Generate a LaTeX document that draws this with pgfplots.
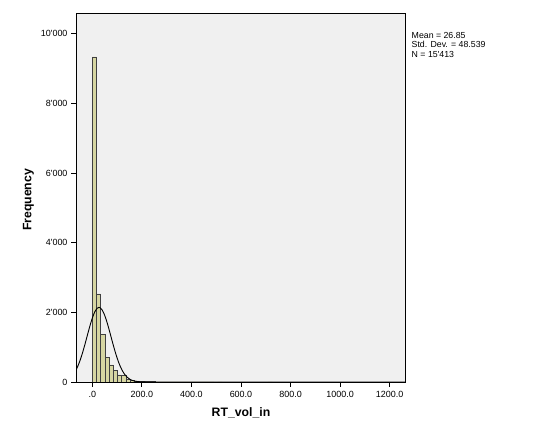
\documentclass[border=0pt]{standalone}
\usepackage{pgfplots}
\pgfplotsset{compat=1.18}
\usepackage{fontspec}
\setmainfont{Liberation Sans}
\definecolor{barfill}{RGB}{214,214,162}
\definecolor{plotbg}{RGB}{240,240,240}
\newcommand{\q}{\textquotesingle}
\begin{document}
\begin{tikzpicture}[x=1bp,y=1bp]
\path[use as bounding box, fill=white] (0,0) rectangle (540,436);
\begin{axis}[
  at={(76bp,54bp)}, anchor=south west,
  width=329.7bp, height=369bp, scale only axis,
  xmin=-66, xmax=1265, ymin=0, ymax=10591,
  scaled x ticks=false, scaled y ticks=false,
  axis background/.style={fill=plotbg},
  axis line style={black, line width=0.8pt},
  xtick={0,200,400,600,800,1000,1200},
  xticklabels={.0,200.0,400.0,600.0,800.0,1000.0,1200.0},
  ytick={0,2000,4000,6000,8000,10000},
  yticklabels={0,2\q000,4\q000,6\q000,8\q000,10\q000},
  xtick pos=bottom, ytick pos=left,
  tick align=outside, major tick length=5bp,
  tick style={black, line width=0.8pt},
  ticklabel style={font=\fontsize{9}{10}\selectfont},
  xticklabel style={yshift=-0.5bp},
  clip=true,
]
\addplot[ybar, bar width=16.9, bar shift=0, fill=barfill, draw=black!75, line width=0.5pt]
coordinates {
(8.45,9330) (25.35,2526) (42.25,1369) (59.15,708) (76.05,488)
(92.95,344) (109.85,201) (126.75,182) (143.65,77) (160.55,57)
(177.45,35) (194.35,25) (211.25,16) (228.15,12) (245.05,8)
(261.95,6) (278.85,5) (295.75,4) (312.65,3) (329.55,3)
(346.45,2) (363.35,2) (380.25,1) (397.15,1) (414.05,1)
(430.95,1) (447.85,1) (464.75,1) (481.65,1)
(515.45,1) (718.25,1) (1191.45,1)
};
\addplot[black, line width=0.9pt, smooth, mark=none]
coordinates {
(-66,343.6) (-60,431.8) (-50,611.2) (-40,829.4) (-30,1078.1)
(-20,1343.8) (-10,1605.0) (0,1837.1) (10,2015.7) (20,2119.7)
(26.85,2140.9) (30,2136.4) (40,2063.8) (50,1910.8) (60,1695.6)
(70,1442.1) (80,1175.6) (90,918.4) (100,687.7) (110,493.5)
(120,339.5) (130,223.9) (140,141.4) (150,85.7) (160,49.7)
(170,27.7) (180,14.7) (200,3.7) (220,0.8) (250,0.05) (300,0) (1265,0)
};
\end{axis}
\node[rotate=90, font=\bfseries\fontsize{12.3}{14}\selectfont] at (28.5,236) {Frequency};
\node[font=\bfseries\fontsize{12.3}{14}\selectfont] at (241,23.5) {RT\_vol\_in};
\node[anchor=base west, inner sep=0pt, font=\fontsize{8.8}{10}\selectfont] at (411.5,397.8) {Mean = 26.85};
\node[anchor=base west, inner sep=0pt, font=\fontsize{8.8}{10}\selectfont] at (411.5,388.3) {Std. Dev. = 48.539};
\node[anchor=base west, inner sep=0pt, font=\fontsize{8.8}{10}\selectfont] at (411.5,378.8) {N = 15\q413};
\end{tikzpicture}
\end{document}
